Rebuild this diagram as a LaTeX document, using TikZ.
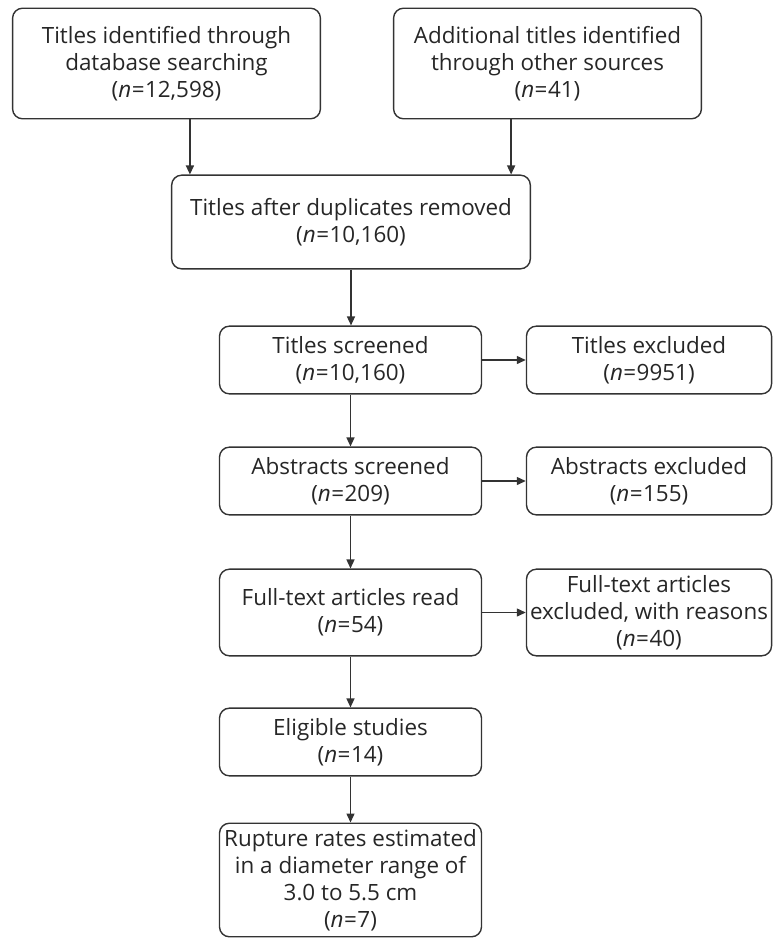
\documentclass[tikz,border=0pt]{standalone}
\usepackage{fontspec}
\setmainfont{Open Sans}
\usetikzlibrary{arrows.meta}
\newcommand{\nval}[1]{(\textit{n}\kern0.5bp=\kern0.5bp#1)}
\begin{document}
\begin{tikzpicture}[x=1bp,y=1bp,
    box/.style={draw=black!80, line width=1.4bp, rounded corners=10bp, align=center,
      inner sep=0pt, font=\fontsize{22.5}{27}\selectfont, text=black!85},
    arr/.style={draw=black!80, line width=1.4bp, -{Triangle[length=9bp,width=8bp]}}]
    \useasboundingbox (0,0) rectangle (773,-938);

    % Top row: sources
    \node[box, minimum width=309, minimum height=111] (dbase) at (166.5,-63.5)
        {Titles identified through\\database searching\\\nval{12,598}};
    \node[box, minimum width=309, minimum height=111] (other) at (547.5,-63.5)
        {Additional titles identified\\through other sources\\\nval{41}};

    % Main column
    \node[box, minimum width=360, minimum height=94] (dedup) at (351,-222)
        {Titles after duplicates removed\\\nval{10,160}};
    \node[box, minimum width=263, minimum height=68] (tscreen) at (350.5,-360)
        {Titles screened\\\nval{10,160}};
    \node[box, minimum width=263, minimum height=68] (ascreen) at (350.5,-481)
        {Abstracts screened\\\nval{209}};
    \node[box, minimum width=263, minimum height=87] (fread) at (350.5,-612.5)
        {Full-text articles read\\\nval{54}};
    \node[box, minimum width=263, minimum height=68] (elig) at (350.5,-742)
        {Eligible studies\\\nval{14}};
    \node[box, minimum width=263, minimum height=114] (rupture) at (350.5,-880)
        {Rupture rates estimated\\in a diameter range of\\3.0 to 5.5 cm\\\nval{7}};

    % Exclusions on the right
    \node[box, minimum width=246, minimum height=68] (texcl) at (649,-360)
        {Titles excluded\\\nval{9951}};
    \node[box, minimum width=246, minimum height=68] (aexcl) at (649,-481)
        {Abstracts excluded\\\nval{155}};
    \node[box, minimum width=246, minimum height=87] (fexcl) at (649,-612.5)
        {Full-text articles\\excluded, with reasons\\\nval{40}};

    % Arrows
    \draw[arr] ([xshift=23.5]dbase.south) -- ([xshift=23.5]dbase.south |- dedup.north);
    \draw[arr] ([xshift=-36.5]other.south) -- ([xshift=-36.5]other.south |- dedup.north);
    \draw[arr] (dedup.south) -- (dedup.south |- tscreen.north);
    \draw[arr] (tscreen) -- (ascreen);
    \draw[arr] (ascreen) -- (fread);
    \draw[arr] (fread) -- (elig);
    \draw[arr] (elig) -- (rupture);
    \draw[arr] (tscreen) -- (texcl);
    \draw[arr] (ascreen) -- (aexcl);
    \draw[arr] (fread) -- (fexcl);
\end{tikzpicture}
\end{document}
